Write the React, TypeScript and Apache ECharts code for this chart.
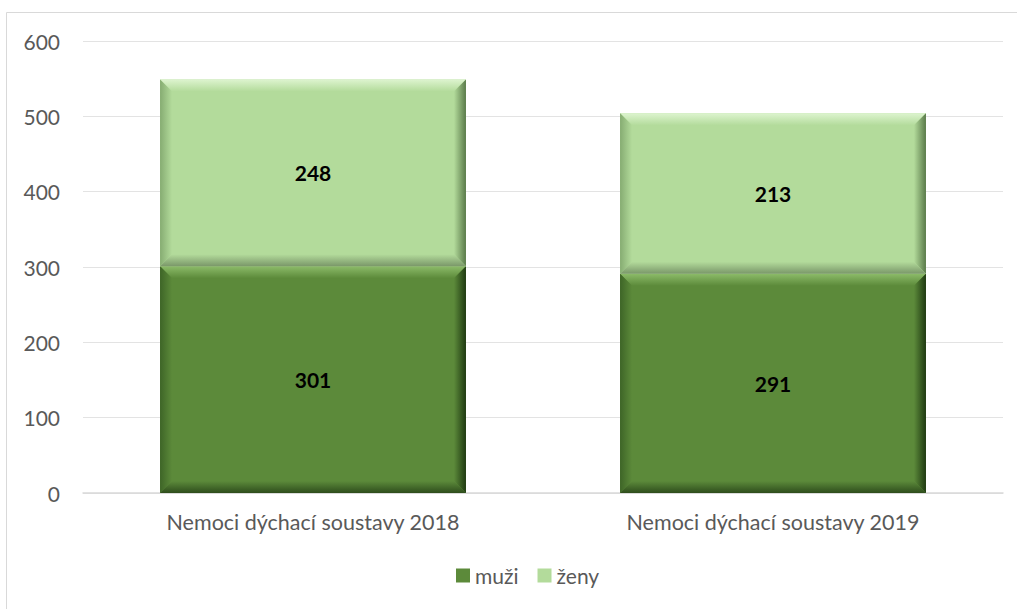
import React, { useEffect, useRef } from "react";
import * as echarts from "echarts";

const categories = ["Nemoci dýchací soustavy 2018", "Nemoci dýchací soustavy 2019"];
const muzi = [301, 291];
const zeny = [248, 213];
const seriesNames = ["muži", "ženy"];
const yTicks = { min: 0, max: 600, interval: 100 };

const FONT = "Lato, 'Open Sans', sans-serif";

type Pal = { base: string; light: string; left: string; right: string; bottom: string };
const palDark: Pal = { base: "#5C8A3A", light: "#8CBB69", left: "#3E6527", right: "#1F3A12", bottom: "#2E4D1C" };
const palLight: Pal = { base: "#B3DB9B", light: "#DDF4CF", left: "#86AC72", right: "#5A7A4A", bottom: "#7A9769" };

function makeRender(pal: Pal) {
  return (params: any, api: any) => {
    const xi = api.value(0);
    const lo = api.value(1);
    const hi = api.value(2);
    const p0 = api.coord([xi, lo]);
    const p1 = api.coord([xi, hi]);
    const band = api.size([1, 0])[0];
    const w = band * 0.665;
    const L = p0[0] - w / 2;
    const R = p0[0] + w / 2;
    const T = p1[1];
    const B = p0[1];
    const b = 12;
    const lin = (x1: number, y1: number, x2: number, y2: number, c1: string, c2: string) =>
      new echarts.graphic.LinearGradient(x1, y1, x2, y2, [
        { offset: 0, color: c1 },
        { offset: 1, color: c2 },
      ]);
    return {
      type: "group",
      children: [
        { type: "rect", shape: { x: L, y: T, width: w, height: B - T }, style: { fill: pal.base } },
        {
          type: "polygon",
          shape: { points: [[L, T], [R, T], [R - b, T + b], [L + b, T + b]] },
          style: { fill: lin(0, 0, 0, 1, pal.light, pal.base) },
        },
        {
          type: "polygon",
          shape: { points: [[L, T], [L + b, T + b], [L + b, B - b], [L, B]] },
          style: { fill: lin(0, 0, 1, 0, pal.left, pal.base) },
        },
        {
          type: "polygon",
          shape: { points: [[R, T], [R, B], [R - b, B - b], [R - b, T + b]] },
          style: { fill: lin(1, 0, 0, 0, pal.right, pal.base) },
        },
        {
          type: "polygon",
          shape: { points: [[L, B], [R, B], [R - b, B - b], [L + b, B - b]] },
          style: { fill: lin(0, 1, 0, 0, pal.bottom, pal.base) },
        },
        {
          type: "text",
          style: {
            x: (L + R) / 2,
            y: (T + B) / 2,
            text: String(hi - lo),
            align: "center",
            verticalAlign: "middle",
            fill: "#000000",
            font: `bold 21px ${FONT}`,
          },
        },
      ],
    };
  };
}

export default function App() {
  const ref = useRef<HTMLDivElement>(null);
  useEffect(() => {
    if (!ref.current) return;
    const chart = echarts.init(ref.current, null, { renderer: "svg" });
    const muziData = categories.map((_, i) => [i, 0, muzi[i]]);
    const zenyData = categories.map((_, i) => [i, muzi[i], muzi[i] + zeny[i]]);
    chart.setOption({
      animation: false,
      backgroundColor: "#ffffff",
      graphic: [
        {
          type: "rect",
          shape: { x: 6.5, y: 12.5, width: 1030, height: 620 },
          style: { fill: "none", stroke: "#d9d9d9", lineWidth: 1 },
          silent: true,
        },
      ],
      grid: { left: 83, right: 14, top: 41, bottom: 116, containLabel: false },
      legend: {
        bottom: 18,
        left: 451,
        icon: "rect",
        itemWidth: 14,
        itemHeight: 14,
        itemGap: 19,
        textStyle: { color: "#595959", fontSize: 21, fontFamily: FONT },
        data: seriesNames,
      },
      xAxis: {
        type: "category",
        data: categories,
        axisLine: { lineStyle: { color: "#d9d9d9", width: 1.5 } },
        axisTick: { show: false },
        axisLabel: { color: "#595959", fontSize: 21.5, fontFamily: FONT, margin: 18 },
      },
      yAxis: {
        type: "value",
        min: yTicks.min,
        max: yTicks.max,
        interval: yTicks.interval,
        axisLine: { show: false },
        axisTick: { show: false },
        axisLabel: { color: "#595959", fontSize: 21, fontFamily: FONT, margin: 23 },
        splitLine: { lineStyle: { color: "#e3e3e3", width: 1 } },
      },
      series: [
        {
          name: seriesNames[0],
          type: "custom",
          renderItem: makeRender(palDark),
          encode: { x: 0, y: [1, 2] },
          itemStyle: { color: palDark.base },
          data: muziData,
        },
        {
          name: seriesNames[1],
          type: "custom",
          renderItem: makeRender(palLight),
          encode: { x: 0, y: [1, 2] },
          itemStyle: { color: palLight.base },
          data: zenyData,
        },
      ],
    });
    return () => chart.dispose();
  }, []);
  return (
    <div
      ref={ref}
      style={{ position: "fixed", left: 0, top: 0, width: 1017, height: 609 }}
    />
  );
}
